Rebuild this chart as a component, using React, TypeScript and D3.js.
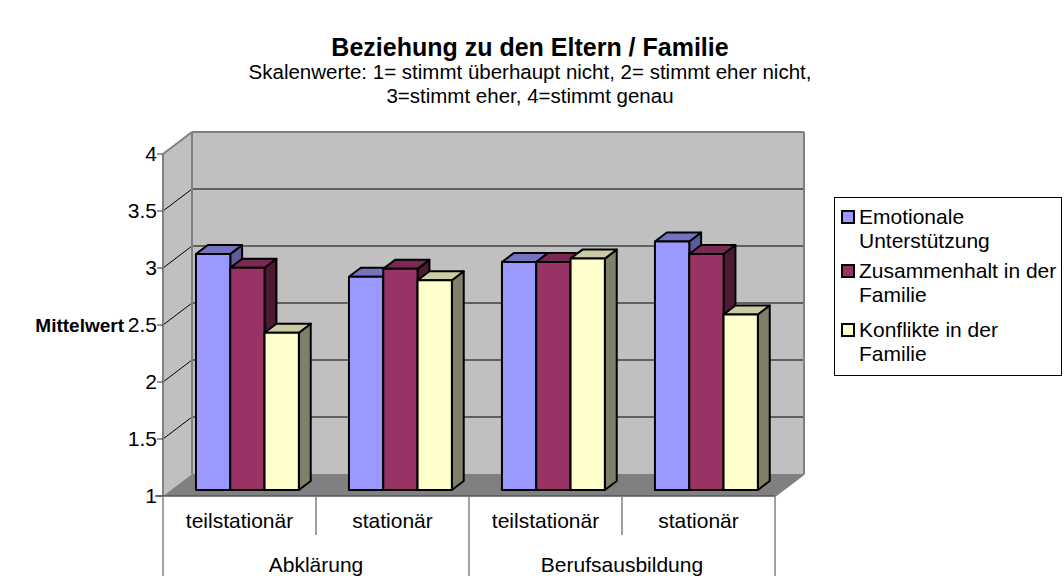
import React from "react";
import * as d3 from "d3";

const groups = ["Abklärung", "Berufsausbildung"];
const categories = ["teilstationär", "stationär", "teilstationär", "stationär"];
const categoryGroup = [0, 0, 1, 1];
const seriesNames = ["Emotionale Unterstützung", "Zusammenhalt in der Familie", "Konflikte in der Familie"];
const legendLines = [["Emotionale", "Unterstützung"], ["Zusammenhalt in der", "Familie"], ["Konflikte in der", "Familie"]];
const emotionale = [3.07, 2.87, 3.0, 3.18];
const zusammenhalt = [2.95, 2.94, 3.0, 3.07];
const konflikte = [2.38, 2.84, 3.03, 2.54];
const yTicks = [1, 1.5, 2, 2.5, 3, 3.5, 4];

const title = "Beziehung zu den Eltern / Familie";
const subtitle1 = "Skalenwerte: 1= stimmt überhaupt nicht, 2= stimmt eher nicht,";
const subtitle2 = "3=stimmt eher, 4=stimmt genau";
const yTitle = "Mittelwert";

const seriesValues = [emotionale, zusammenhalt, konflikte];
const colors = [
  { front: "#9999FF", top: "#7373C0", side: "#5C5C99" },
  { front: "#993366", top: "#7A2952", side: "#4D1A33" },
  { front: "#FFFFCC", top: "#CCCCA3", side: "#80806A" },
];

const FONT = "'Liberation Sans', Arial, Helvetica, sans-serif";

export default function App() {
  const left = 163, right = 775;
  const depthX = 29, depthY = 22;
  const y = d3.scaleLinear().domain([1, 4]).range([496, 154]);
  const x = d3.scaleBand<number>().domain(d3.range(categories.length)).range([left, right]).paddingInner(0).paddingOuter(0);
  const xs = d3.scaleBand<number>().domain(d3.range(seriesNames.length)).range([0, x.bandwidth()]).paddingInner(0).paddingOuter(0.73);
  const d0 = 6 / 22, d1 = 15 / 22;
  const fx = d0 * depthX, fy = d0 * depthY;
  const bx = (d1 - d0) * depthX, by = (d1 - d0) * depthY;
  const yBack = (v: number) => y(v) - depthY;

  const bars: React.ReactNode[] = [];
  categories.forEach((_, ci) => {
    seriesNames.forEach((_, si) => {
      const v = seriesValues[si][ci];
      const x0 = (x(ci) as number) + (xs(si) as number) + fx;
      const w = xs.bandwidth();
      const yt = y(v) - fy;
      const yb = y(1) - fy;
      const c = colors[si];
      const pts = (a: number[][]) => a.map((p) => p.join(",")).join(" ");
      bars.push(
        <g key={`b${ci}-${si}`} stroke="#000" strokeWidth={2} strokeLinejoin="round">
          <polygon points={pts([[x0 + w, yt], [x0 + w + bx, yt - by], [x0 + w + bx, yb - by], [x0 + w, yb]])} fill={c.side} />
          <polygon points={pts([[x0, yt], [x0 + bx, yt - by], [x0 + w + bx, yt - by], [x0 + w, yt]])} fill={c.top} />
          <rect x={x0} y={yt} width={w} height={yb - yt} fill={c.front} />
        </g>
      );
    });
  });

  const groupW = x.bandwidth() * 2;
  const legendY = [[224, 248], [278, 302], [337, 361]];

  return (
    <svg width={1064} height={576} style={{ position: "absolute", left: 0, top: 0, background: "#fff" }} fontFamily={FONT}>
      <text x={530} y={56} textAnchor="middle" fontSize={25} fontWeight="bold">{title}</text>
      <text x={530} y={79} textAnchor="middle" fontSize={20.5}>{subtitle1}</text>
      <text x={530} y={103} textAnchor="middle" fontSize={20.5}>{subtitle2}</text>

      {/* back wall */}
      <rect x={left + depthX} y={y(4) - depthY} width={right - left} height={y(1) - y(4)} fill="#C0C0C0" />
      {/* side wall */}
      <polygon
        points={`${left},${y(4)} ${left + depthX},${yBack(4)} ${left + depthX},${yBack(1)} ${left},${y(1)}`}
        fill="#C0C0C0"
      />
      {/* floor */}
      <polygon
        points={`${left},${y(1)} ${left + depthX},${yBack(1)} ${right + depthX},${yBack(1)} ${right},${y(1)}`}
        fill="#808080"
      />
      {/* gridlines */}
      {yTicks.filter((t) => t > 1 && t < 4).map((t) => (
        <g key={`g${t}`} stroke="#000" strokeWidth={1}>
          <line x1={left + depthX} x2={right + depthX} y1={yBack(t)} y2={yBack(t)} />
          <line x1={left} x2={left + depthX} y1={y(t)} y2={yBack(t)} />
        </g>
      ))}
      {/* wall edges */}
      <g stroke="#808080" strokeWidth={2} fill="none">
        <line x1={left + depthX} x2={right + depthX} y1={yBack(4)} y2={yBack(4)} />
        <line x1={left} x2={left + depthX} y1={y(4)} y2={yBack(4)} />
        <line x1={left + depthX} x2={left + depthX} y1={yBack(4)} y2={yBack(1)} />
        <line x1={right + depthX} x2={right + depthX} y1={yBack(4)} y2={yBack(1)} />
        <line x1={right} x2={right + depthX} y1={y(1)} y2={yBack(1)} />
        <line x1={left} x2={left} y1={y(4)} y2={y(1)} />
      </g>
      {bars}

      {/* y ticks */}
      {yTicks.map((t) => (
        <g key={`t${t}`}>
          <line x1={left - 6} x2={left} y1={y(t)} y2={y(t)} stroke="#333" strokeWidth={1} />
          <text x={157} y={y(t)} dy="0.35em" textAnchor="end" fontSize={21}>{d3.format("~g")(t)}</text>
        </g>
      ))}
      <text x={124} y={y(2.5)} dy="0.35em" textAnchor="end" fontSize={19} fontWeight="bold">{yTitle}</text>

      {/* category axis table */}
      <g stroke="#808080" strokeWidth={1.5}>
        <line x1={left - 8} x2={right} y1={y(1)} y2={y(1)} stroke="#555" />
        <line x1={left} x2={left} y1={y(1)} y2={576} />
        {categories.map((_, i) => (
          <line key={`v${i}`} x1={(x(i) as number) + x.bandwidth()} x2={(x(i) as number) + x.bandwidth()} y1={y(1)} y2={i % 2 === 0 ? 535 : 576} />
        ))}
      </g>
      {categories.map((c, i) => (
        <text key={`c${i}`} x={(x(i) as number) + x.bandwidth() / 2} y={528} textAnchor="middle" fontSize={21}>{c}</text>
      ))}
      {groups.map((g, gi) => {
        const idx = categoryGroup.indexOf(gi);
        return (
          <text key={`gr${gi}`} x={(x(idx) as number) + groupW / 2} y={572} textAnchor="middle" fontSize={21}>{g}</text>
        );
      })}

      {/* legend */}
      <rect x={834.5} y={197.5} width={227} height={178} fill="#fff" stroke="#000" strokeWidth={1} />
      {seriesNames.map((s, i) => (
        <g key={`l${i}`}>
          <rect x={842} y={legendY[i][0] - 13} width={12} height={12} fill={colors[i].front} stroke="#000" strokeWidth={2} />
          {legendLines[i].map((ln, li) => (
            <text key={li} x={859} y={legendY[i][li]} fontSize={21}>{ln}</text>
          ))}
        </g>
      ))}
    </svg>
  );
}
